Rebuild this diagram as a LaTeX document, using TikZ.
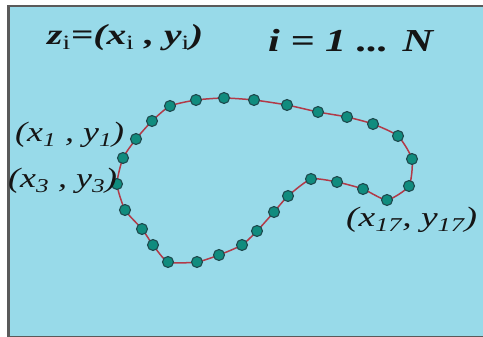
\documentclass[tikz,border=0pt]{standalone}
\usepackage{fontspec}
\setmainfont{Liberation Serif}
\definecolor{bgblue}{HTML}{98DAE9}
\definecolor{framegray}{HTML}{5A5A5A}
\definecolor{linered}{HTML}{B23A48}
\definecolor{dotteal}{HTML}{108C7E}
\definecolor{dotedge}{HTML}{1E4A4E}
\definecolor{txt}{HTML}{151515}
\tikzset{
  dot/.style={circle, fill=dotteal, draw=dotedge, line width=1.1pt, minimum size=11pt, inner sep=0pt},
  contour/.style={draw=linered, line width=1.5pt},
  title/.style={anchor=base west, inner sep=0pt, text=txt, font=\fontsize{29}{29}\selectfont\bfseries\itshape},
  lbl/.style={anchor=base west, inner sep=0pt, text=txt, font=\fontsize{28}{28}\selectfont\itshape}
}
\begin{document}
\begin{tikzpicture}[x=1pt,y=-1pt]
\useasboundingbox (0,0) rectangle (483,337);
\fill[white] (0,0) rectangle (483,337);
\fill[framegray] (7,5) rectangle (483,337);
\fill[bgblue] (10,7) rectangle (483,336);
\foreach \n/\x/\y in {1/136/139,2/123/158,3/117/184,4/125/210,5/142/229,6/153/245,7/168/262,8/197/262,9/219/255,10/242/245,11/257/231,12/274/212,13/288/196,14/311/179,15/337/182,16/363/189,17/387/200,18/409/186,19/412/159,20/398/136,21/373/124,22/347/117,23/318/112,24/287/105,25/254/100,26/224/98,27/196/100,28/170/106,29/152/121}
  \coordinate (c\n) at (\x,\y);
\draw[contour] plot[smooth cycle, tension=0.35] coordinates {(c1) (c2) (c3) (c4) (c5) (c6) (c7) (c8) (c9) (c10) (c11) (c12) (c13) (c14) (c15) (c16) (c17) (c18) (c19) (c20) (c21) (c22) (c23) (c24) (c25) (c26) (c27) (c28) (c29)};
\foreach \n in {1,...,29}
  \node[dot] (p\n) at (c\n) {};
\node[title] (t1) at (47,45) {\scalebox{1.36}[1]{z\textsubscript{\normalfont i}=(x\textsubscript{\normalfont i} ,\ y\textsubscript{\normalfont i})}};
\node[title, font=\fontsize{32}{32}\selectfont\bfseries\itshape] (t2) at (268,52) {\scalebox{1.32}[1]{i = 1 ... N}};
\node[lbl] (l1) at (15,142) {\scalebox{1.28}[1]{(x\textsubscript{1} , y\textsubscript{1})}};
\node[lbl] (l3) at (8,188) {\scalebox{1.28}[1]{(x\textsubscript{3} , y\textsubscript{3})}};
\node[lbl] (l17) at (346,227) {\scalebox{1.34}[1]{(x\textsubscript{17}, y\textsubscript{17})}};
\end{tikzpicture}
\end{document}
